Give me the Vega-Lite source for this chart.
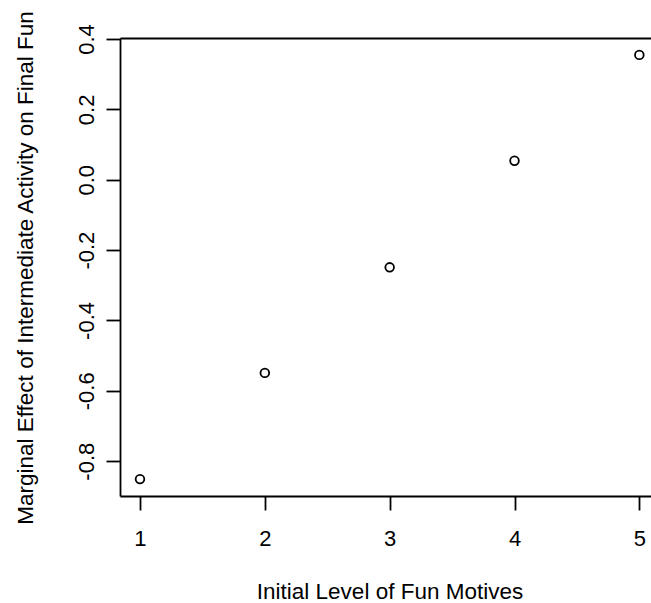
{
  "$schema": "https://vega.github.io/schema/vega-lite/v6.json",
  "autosize": {"type": "none"},
  "padding": {"left": 120, "top": 38, "right": 0, "bottom": 107},
  "width": 531,
  "height": 458,
  "background": "white",
  "config": {
    "view": {"stroke": null},
    "font": "Liberation Sans",
    "axis": {"grid": false, "domain": true, "domainColor": "black", "domainWidth": 1.8, "tickColor": "black", "tickWidth": 1.8, "tickSize": 14, "labelColor": "black", "titleColor": "black", "labelFont": "Liberation Sans", "titleFont": "Liberation Sans", "labelFontSize": 22, "titleFontSize": 22.5, "titleFontWeight": "normal"}
  },
  "data": {
    "values": [
      {"level": 1, "effect": -0.851},
      {"level": 2, "effect": -0.549},
      {"level": 3, "effect": -0.249},
      {"level": 4, "effect": 0.054},
      {"level": 5, "effect": 0.355}
    ]
  },
  "resolve": {"axis": {"x": "independent"}},
  "layer": [
    {
      "mark": {"type": "point", "shape": "circle", "filled": false, "stroke": "black", "strokeWidth": 1.8, "size": 75, "opacity": 1},
      "encoding": {
        "x": {
          "field": "level", "type": "quantitative",
          "scale": {"domain": [0.84, 5.0933], "nice": false, "zero": false},
          "axis": {"orient": "bottom", "values": [1, 2, 3, 4, 5], "format": "d", "labelPadding": 18, "labelBaseline": "top", "labelAlign": "center",
            "title": "Initial Level of Fun Motives", "titleY": 102, "titleX": 269.5, "titleBaseline": "alphabetic", "titleAlign": "center"}
        },
        "y": {
          "field": "effect", "type": "quantitative",
          "scale": {"domain": [-0.899, 0.403], "nice": false, "zero": false},
          "axis": {"values": [-0.8, -0.6, -0.4, -0.2, 0, 0.2, 0.4],
            "labelExpr": "replace(format(datum.value, '.1f'), '\u2212', '-')",
            "labelAngle": -90, "labelAlign": "center", "labelBaseline": "alphabetic", "labelPadding": 12.4,
            "title": "Marginal Effect of Intermediate Activity on Final Fun",
            "titleAngle": -90, "titleX": -88, "titleY": 229.5, "titleAlign": "center", "titleBaseline": "alphabetic"}
        }
      }
    },
    {
      "mark": {"type": "point", "opacity": 0},
      "encoding": {
        "x": {
          "field": "level", "type": "quantitative",
          "axis": {"orient": "top", "labels": false, "ticks": false, "title": null, "domain": true}
        },
        "y": {"field": "effect", "type": "quantitative"}
      }
    }
  ]
}
